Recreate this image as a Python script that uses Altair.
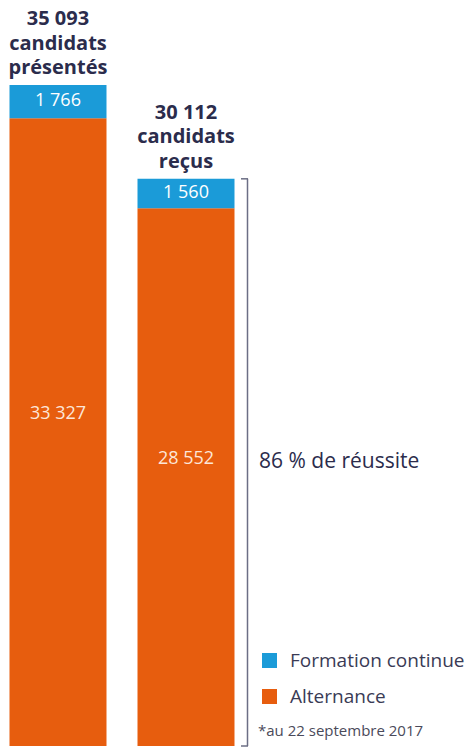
import altair as alt
import pandas as pd

# ---- data ----
groups = ["présentés", "reçus"]
title_lines = [["35 093", "candidats", "présentés"], ["30 112", "candidats", "reçus"]]
series = ["Formation continue", "Alternance"]
formation = [1766, 1560]
alternance = [33327, 28552]
totals = [35093, 30112]
footnote = "*au 22 septembre 2017"

BLUE = "#1b9bd8"
ORANGE = "#e75d0e"
NAVY = "#2b2c4c"
FONT = "Open Sans"


def fr(n):
    return f"{n:,}".replace(",", " ")


rows = []
for g, f, a in zip(groups, formation, alternance):
    rows.append(dict(group=g, series="Alternance", value=a, ord=0, label=fr(a)))
    rows.append(dict(group=g, series="Formation continue", value=f, ord=1, label=fr(f)))
df = pd.DataFrame(rows)

tot = pd.DataFrame(dict(group=groups, total=totals, title=["\n".join(t) for t in title_lines]))

pct = round(100 * totals[1] / totals[0])
success = pd.DataFrame(dict(mid=[totals[1] / 2], top=[totals[1]], zero=[0],
                            text=[f"{pct} % de réussite"]))
foot = pd.DataFrame(dict(text=[footnote]))

# ---- scales ----
xscale = alt.Scale(domain=groups, paddingInner=0.2422, paddingOuter=0.9609, align=0.0386, round=False)
yscale = alt.Scale(domain=[0, totals[0]], nice=False, zero=True)
X = alt.X("group:N", scale=xscale, axis=None, sort=groups)

bars = alt.Chart(df).mark_bar().encode(
    x=X,
    y=alt.Y("value:Q", stack="zero", scale=yscale, axis=None),
    color=alt.Color(
        "series:N",
        scale=alt.Scale(domain=series, range=[BLUE, ORANGE]),
        legend=alt.Legend(
            title=None, orient="none", legendX=260, legendY=566,
            symbolType="square", symbolSize=225, symbolStrokeWidth=0, symbolOpacity=1,
            labelFontSize=19, labelFont=FONT, labelColor="#3a3b55", labelOffset=11,
            labelLimit=300, rowPadding=16, padding=0,
        ),
    ),
    order=alt.Order("ord:Q"),
)

stacked = alt.Chart(df).transform_stack(
    stack="value", groupby=["group"], as_=["v0", "v1"], sort=[alt.SortField("ord", order="ascending")]
).transform_calculate(mid="(datum.v0 + datum.v1) / 2")

lab_blue = stacked.transform_filter("datum.series == 'Formation continue'").mark_text(
    font=FONT, fontSize=18, color="white", baseline="middle", dy=-1
).encode(x=X, y=alt.Y("mid:Q", scale=yscale), text="label:N")

lab_orange = stacked.transform_filter("datum.series == 'Alternance'").mark_text(
    font=FONT, fontSize=18, color="#fde6d8", baseline="middle", dy=-18
).encode(x=X, y=alt.Y("mid:Q", scale=yscale), text="label:N")

titles = alt.Chart(tot).mark_text(
    font=FONT, fontSize=20, fontWeight="bold", color=NAVY, lineBreak="\n",
    lineHeight=24.5, baseline="bottom", dy=-56
).encode(x=X, y=alt.Y("total:Q", scale=yscale), text="title:N")

BR = "#6b6e85"
bracket_v = alt.Chart(success).mark_rule(color=BR, strokeWidth=1.5).encode(
    x=alt.value(247.5), y=alt.Y("top:Q", scale=yscale), y2="zero:Q"
)
bracket_top = alt.Chart(success).mark_rule(color=BR, strokeWidth=1.5).encode(
    x=alt.value(241), x2=alt.value(248), y=alt.Y("top:Q", scale=yscale)
)
bracket_bot = alt.Chart(success).mark_rule(color=BR, strokeWidth=1.5).encode(
    x=alt.value(241), x2=alt.value(248), y=alt.Y("zero:Q", scale=yscale)
)

success_txt = alt.Chart(success).mark_text(
    font=FONT, fontSize=21, color=NAVY, align="left", baseline="middle"
).encode(x=alt.value(259), y=alt.Y("mid:Q", scale=yscale), text="text:N")

foot_txt = alt.Chart(foot).mark_text(
    font=FONT, fontSize=15, color="#4a4a5a", align="left", baseline="middle"
).encode(x=alt.value(258), y=alt.value(646), text="text:N")

chart = alt.layer(
    bars, lab_blue, lab_orange, titles, bracket_v, bracket_top, bracket_bot, success_txt, foot_txt
).properties(
    width=471, height=661,
    autosize=alt.AutoSizeParams(type="none"),
    padding={"left": 0, "top": 85, "right": 0, "bottom": 6},
    background="white",
).configure_view(stroke=None)

chart.save("out.html", embed_options={"renderer": "svg", "actions": False})
